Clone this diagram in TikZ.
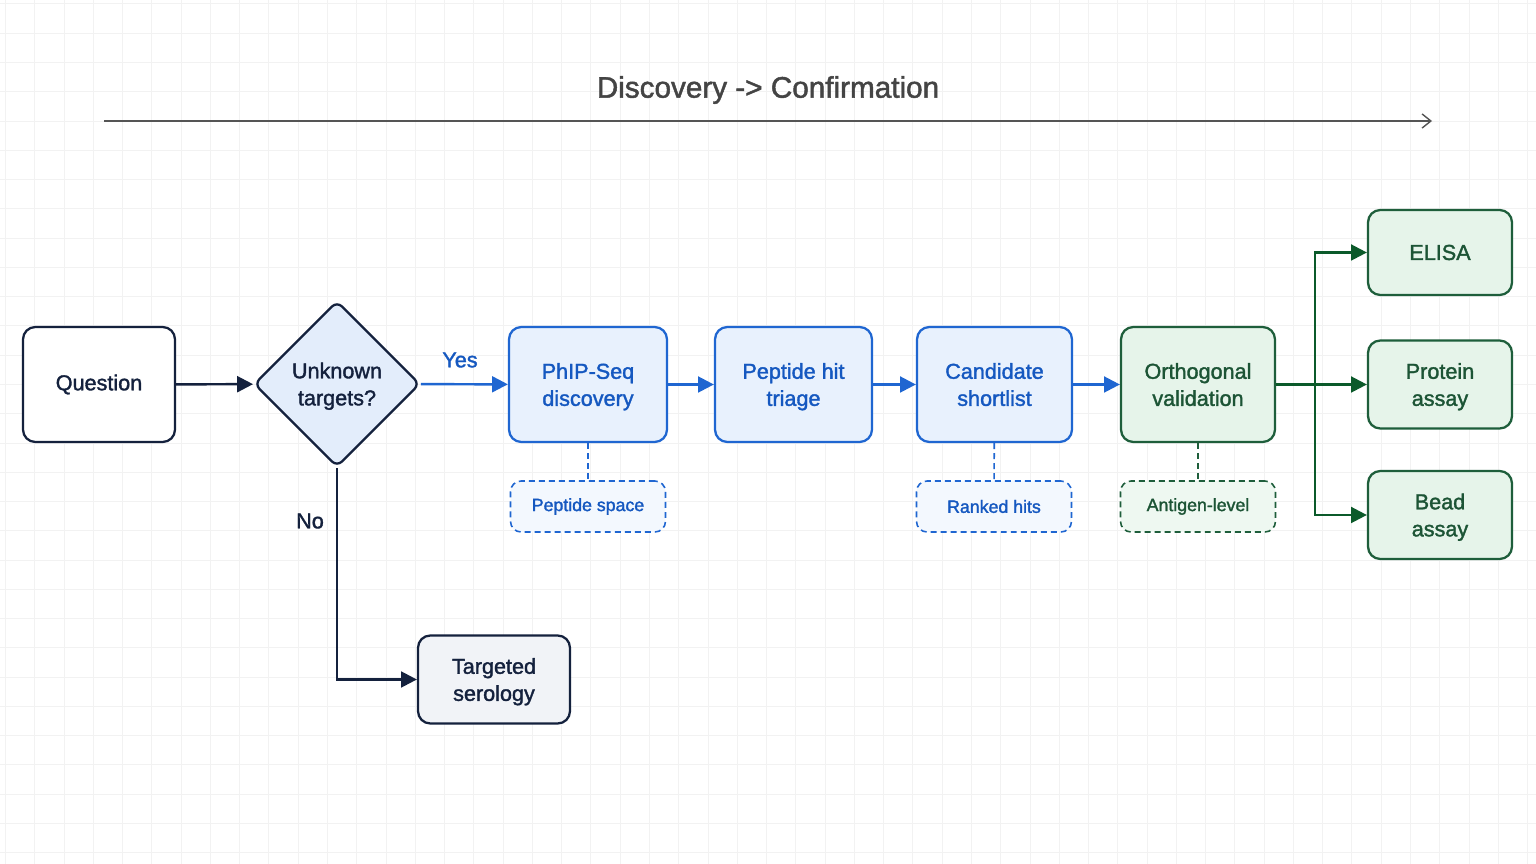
\documentclass[tikz,border=0pt]{standalone}
\usepackage{fontspec}
\setmainfont{Liberation Sans}[FakeBold=1.6]
\usetikzlibrary{shapes.geometric,arrows.meta}

\definecolor{navy}{HTML}{14213D}
\definecolor{bluestroke}{HTML}{1F66D1}
\definecolor{bluefill}{HTML}{E8F1FD}
\definecolor{bluenote}{HTML}{F3F8FE}
\definecolor{bluetext}{HTML}{1558C0}
\definecolor{decfill}{HTML}{E3EDFB}
\definecolor{greenstroke}{HTML}{1E5E3B}
\definecolor{greenfill}{HTML}{E6F4EA}
\definecolor{greennote}{HTML}{EEF8F1}
\definecolor{greentext}{HTML}{1C5435}
\definecolor{greenarrow}{HTML}{0B5A2A}
\definecolor{grayfill}{HTML}{F1F3F7}
\definecolor{gridgray}{HTML}{F2F2F2}
\definecolor{axisgray}{HTML}{555555}
\definecolor{titlegray}{HTML}{444444}

\tikzset{
  boxtext/.style={font=\fontsize{12.3}{15.4}\selectfont, align=center},
  textdrop/.style={text depth=0pt},
  box/.style={draw, rounded corners=7pt, line width=1.3pt, minimum height=2.3cm, boxtext},
  smallbox/.style={box, minimum width=2.88cm, minimum height=1.76cm},
  navybox/.style={box, draw=navy, text=navy},
  bluebox/.style={box, draw=bluestroke, fill=bluefill, text=bluetext, textdrop},
  greenbox/.style={box, draw=greenstroke, fill=greenfill, text=greentext, textdrop},
  outbox/.style={smallbox, draw=greenstroke, fill=greenfill, text=greentext},
  decision/.style={diamond, aspect=1, draw=navy, fill=decfill, text=navy, line width=1.3pt,
    rounded corners=4pt, minimum size=3.32cm, inner sep=0pt, boxtext, textdrop},
  note/.style={draw, dash pattern=on 3.4pt off 2.3pt, rounded corners=6pt, line width=0.9pt,
    minimum width=3.1cm, minimum height=1.02cm, font=\fontsize{10.1}{12}\selectfont},
  bluenotebox/.style={note, draw=bluestroke, fill=bluenote, text=bluetext},
  greennotebox/.style={note, draw=greenstroke, fill=greennote, text=greentext},
  flow/.style={line width=1.4pt, -{Triangle[length=9pt,width=9pt]}},
  link/.style={line width=0.9pt, dash pattern=on 3.4pt off 2.3pt},
  gridline/.style={gridgray, line width=0.5pt}
}

\begin{document}
\begin{tikzpicture}[x=0.02cm, y=-0.02cm]
    \useasboundingbox (0,0) rectangle (1536,864);
    \fill[white] (0,0) rectangle (1536,864);

    % background grid
    \foreach \i in {0,...,52}
        \draw[gridline] ({5.5+29.27*\i},0) -- ({5.5+29.27*\i},864);
    \foreach \j in {0,...,29}
        \draw[gridline] (0,{3.9+29.27*\j}) -- (1536,{3.9+29.27*\j});

    % time axis
    \node [text=titlegray, font=\fontsize{16.9}{20}\selectfont] (title) at (768,90) {Discovery -> Confirmation};
    \coordinate (axisl) at (104,121);
    \coordinate (axisr) at (1432,121);
    \draw[axisgray, line width=0.8pt, -{Straight Barb[length=5pt,width=8pt]}] (axisl) -- (axisr);

    % main chain
    \node [navybox, minimum width=3.04cm, fill=white] (q) at (99,384.5) {Question};
    \node [decision] (dec) at (337,384) {Unknown\\targets?};
    \node [bluebox, minimum width=3.16cm] (phip) at (588,384.5) {PhIP-Seq\\discovery};
    \node [bluebox, minimum width=3.14cm] (triage) at (793.5,384.5) {Peptide hit\\triage};
    \node [bluebox, minimum width=3.1cm] (cand) at (994.5,384.5) {Candidate\\shortlist};
    \node [greenbox, minimum width=3.08cm] (orth) at (1198,384.5) {Orthogonal\\validation};

    % outputs
    \node [outbox, minimum height=1.7cm] (elisa) at (1440,252.5) {ELISA};
    \node [outbox, textdrop] (prot) at (1440,384.5) {Protein\\assay};
    \node [outbox, textdrop] (bead) at (1440,515) {Bead\\assay};
    \node [smallbox, draw=navy, fill=grayfill, text=navy, minimum width=3.04cm, textdrop] (tser) at (494,679.5) {Targeted\\serology};

    % notes
    \node [bluenotebox] (pspace) at (588,506.5) {Peptide space};
    \node [bluenotebox] (ranked) at (994,506.5) {Ranked hits};
    \node [greennotebox] (antigen) at (1198,506.5) {Antigen-level};

    % labels
    \node [text=bluetext, boxtext] (yes) at (460,360) {Yes};
    \node [text=navy, boxtext] (no) at (310,521) {No};

    \coordinate (split) at (1315,384.5);

    \draw[flow, navy] (q) -- (dec);
    \draw[flow, bluestroke] (dec) -- (phip);
    \draw[flow, bluestroke] (phip) -- (triage);
    \draw[flow, bluestroke] (triage) -- (cand);
    \draw[flow, bluestroke] (cand) -- (orth);
    \draw[flow, navy] (dec.south) |- (tser.west);

    \draw[line width=1.4pt, greenarrow] (orth) -- (split);
    \draw[flow, greenarrow] (split) |- (elisa.west);
    \draw[flow, greenarrow] (split) -- (prot.west);
    \draw[flow, greenarrow] (split) |- (bead.west);

    \draw[link, bluestroke] (phip) -- (pspace);
    \draw[link, bluestroke] (cand) -- (ranked);
    \draw[link, greenstroke] (orth) -- (antigen);
\end{tikzpicture}
\end{document}
